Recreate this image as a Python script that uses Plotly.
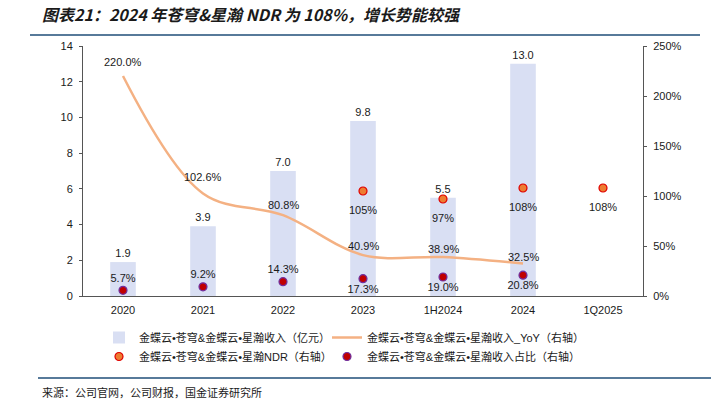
import plotly.graph_objects as go

categories = ["2020", "2021", "2022", "2023", "1H2024", "2024", "1Q2025"]
revenue = [1.9, 3.9, 7.0, 9.8, 5.5, 13.0, None]
revenue_labels = ["1.9", "3.9", "7.0", "9.8", "5.5", "13.0", ""]
yoy = [220.0, 102.6, 80.8, 40.9, 38.9, 32.5, None]
yoy_labels = ["220.0%", "102.6%", "80.8%", "40.9%", "38.9%", "32.5%", ""]
ndr = [None, None, None, 105, 97, 108, 108]
ndr_labels = ["", "", "", "105%", "97%", "108%", "108%"]
share = [5.7, 9.2, 14.3, 17.3, 19.0, 20.8, None]
share_labels = ["5.7%", "9.2%", "14.3%", "17.3%", "19.0%", "20.8%", ""]
left_ticks = [0, 2, 4, 6, 8, 10, 12, 14]
right_ticks = [0, 50, 100, 150, 200, 250]

# label offsets (pixels) for the YoY data labels, as placed in the original
yoy_label_shift = [14, 16, 10, 9, 8, 7, 0]

FONT = "Liberation Sans, Arial, Noto Sans CJK SC"
LFONT = "Liberation Sans, Noto Sans CJK SC"
TXT = dict(size=11, color="#1a1a1a", family=FONT)

fig = go.Figure()
fig.add_trace(go.Bar(
    x=categories, y=revenue, name="金蝶云•苍穹&金蝶云•星瀚收入（亿元）",
    marker=dict(color="#D9DFF3", line=dict(width=0)), width=0.32,
    text=revenue_labels, textposition="outside", cliponaxis=False,
    textfont=TXT, legend="legend", legendrank=1,
))
fig.add_trace(go.Scatter(
    x=categories, y=yoy, yaxis="y2", mode="lines",
    name="金蝶云•苍穹&金蝶云•星瀚收入_YoY（右轴）",
    line=dict(color="#F4B183", width=2.5, shape="spline", smoothing=1.0),
    legend="legend2", legendrank=1,
))
fig.add_trace(go.Scatter(
    x=categories, y=ndr, yaxis="y2", mode="markers",
    name="金蝶云•苍穹&金蝶云•星瀚NDR（右轴）",
    marker=dict(color="#ED7D31", size=8, line=dict(color="#E00000", width=1.2)),
    cliponaxis=False, legend="legend", legendrank=2,
))
fig.add_trace(go.Scatter(
    x=categories, y=share, yaxis="y2", mode="markers+text",
    name="金蝶云•苍穹&金蝶云•星瀚收入占比（右轴）",
    marker=dict(color="#C00000", size=8, line=dict(color="#7030A0", width=1.2)),
    text=share_labels,
    textposition=["top center"] * 3 + ["bottom center"] * 4,
    cliponaxis=False, textfont=TXT,
    legend="legend2", legendrank=2,
))

# category axis: annotations are placed by category index
for i, (v, lab, sh) in enumerate(zip(yoy, yoy_labels, yoy_label_shift)):
    if v is not None:
        fig.add_annotation(x=i, y=v, xref="x", yref="y2", text=lab, showarrow=False,
                           yshift=sh, font=TXT)
for i, (v, lab) in enumerate(zip(ndr, ndr_labels)):
    if v is not None:
        fig.add_annotation(x=i, y=v, xref="x", yref="y2", text=lab, showarrow=False,
                           yshift=-19, font=TXT)

axis_common = dict(
    showgrid=False, zeroline=False, showline=True, linecolor="#555555", linewidth=1,
    ticks="outside", ticklen=3, tickcolor="#555555", ticklabelstandoff=4,
    tickfont=TXT,
)
legend_common = dict(
    orientation="v", y=-0.108, xanchor="left", yanchor="top",
    tracegroupgap=0, font=dict(size=11, color="#1a1a1a", family=LFONT),
    bgcolor="rgba(0,0,0,0)",
)
fig.update_layout(
    width=711, height=399,
    margin=dict(l=83, r=68, t=46, b=103),
    paper_bgcolor="white", plot_bgcolor="white",
    showlegend=True,
    xaxis=dict(type="category", range=[-0.5, 6.5], showgrid=False, showline=True,
               linecolor="#555555", ticks="", ticklabelstandoff=4, tickfont=TXT),
    yaxis=dict(range=[0, 14], tickvals=left_ticks, **axis_common),
    yaxis2=dict(range=[0, 250], tickvals=right_ticks, ticktext=[f"{v}%" for v in right_ticks],
                overlaying="y", side="right", **axis_common),
    legend=dict(x=(99 - 83) / 560, **legend_common),
    legend2=dict(x=(327 - 83) / 560, **legend_common),
    bargap=0.5,
)

fig.add_annotation(
    text="<b><i>图表21：2024 年苍穹&星瀚 NDR 为 108%，增长势能较强</i></b>",
    xref="paper", yref="paper", x=-83/560 + 40/560, y=1 + (46-14)/250,
    xanchor="left", yanchor="middle", showarrow=False,
    font=dict(size=16, color="#1a1a1a", family="Noto Sans CJK SC"),
)
fig.add_annotation(
    text="来源：公司官网，公司财报，国金证券研究所",
    xref="paper", yref="paper", x=-83/560 + 40/560, y=-(392-296)/250,
    xanchor="left", yanchor="middle", showarrow=False,
    font=dict(size=11, color="#1a1a1a", family="Noto Sans CJK SC"),
)
fig.add_shape(type="line", xref="paper", yref="paper",
              x0=-(83-30)/560, x1=(700-83)/560, y0=1 + (46-35)/250, y1=1 + (46-35)/250,
              line=dict(color="#1F4E79", width=1.5))
fig.add_shape(type="line", xref="paper", yref="paper",
              x0=-(83-38)/560, x1=(711-83)/560, y0=-(378-296)/250, y1=-(378-296)/250,
              line=dict(color="#1F4E79", width=1.5))

fig.write_html("out.html", config={"displayModeBar": False},
               post_script="document.body.style.margin='0';document.body.style.overflow='hidden';")
